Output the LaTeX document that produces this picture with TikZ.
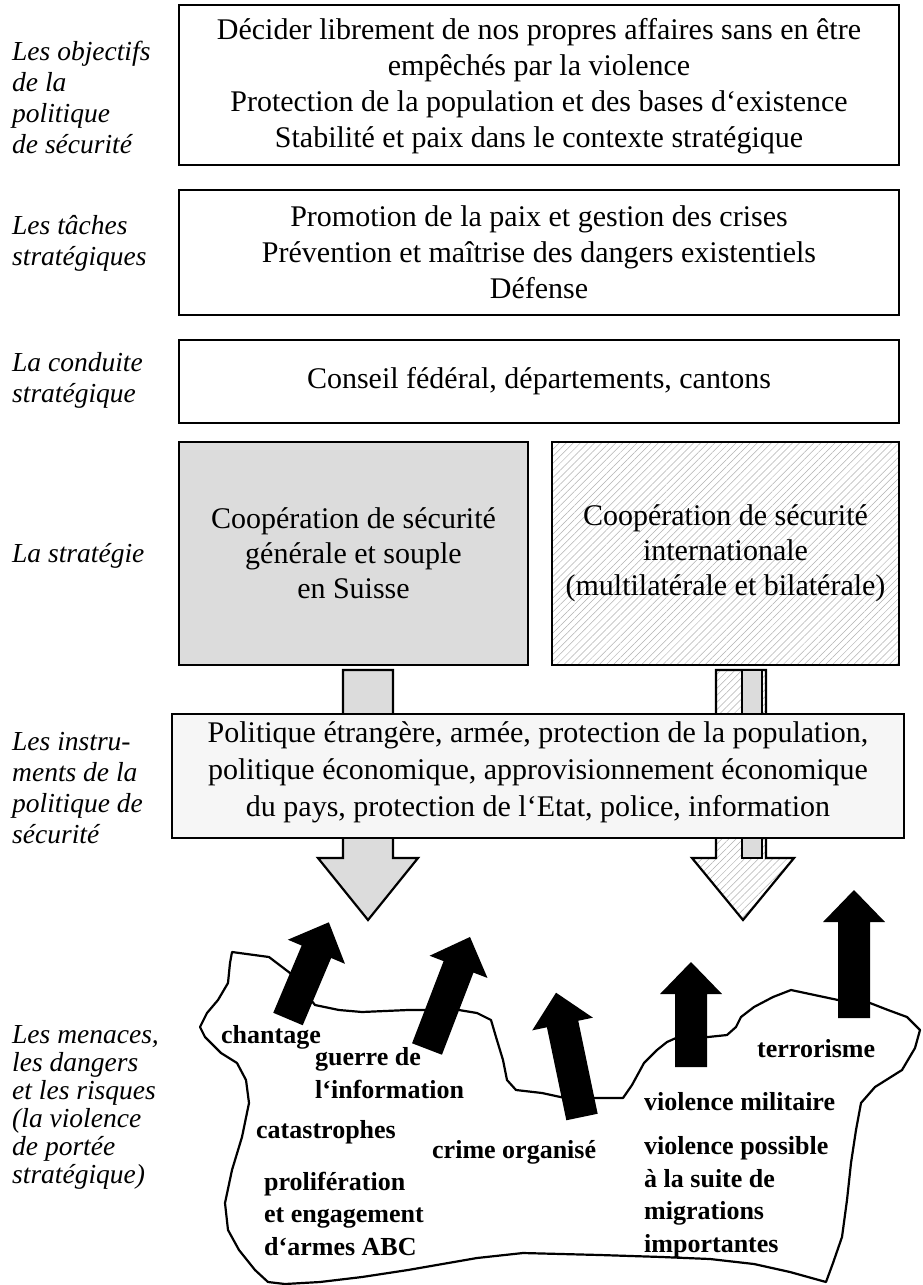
\documentclass[tikz,border=0pt]{standalone}
\usepackage{fontspec}
\setmainfont{Liberation Serif}
\usetikzlibrary{patterns.meta}
\definecolor{boxgray}{HTML}{DCDCDC}
\definecolor{lightfill}{HTML}{F6F6F6}
\newcommand{\fatarrow}[3]{%
  \fill[black,shift={(#1)},rotate=#2] (0,-16) -- ({#3-32},-16) -- ({#3-32},-31) -- (#3,0) -- ({#3-32},31) -- ({#3-32},16) -- (0,16) -- cycle;}
\begin{document}
\begin{tikzpicture}[x=1pt,y=-1pt,
  box/.style={draw, line width=2.4pt, inner sep=0pt},
  lbl/.style={anchor=base west, align=left, inner sep=0pt, font=\itshape\fontsize{27.5}{31}\selectfont},
  btxt/.style={align=center, inner sep=0pt, font=\fontsize{30}{36}\selectfont},
  threat/.style={anchor=base west, align=left, inner sep=0pt, font=\bfseries\fontsize{26}{32.5}\selectfont},
  hatch/.style={pattern={Lines[angle=45,distance=5pt,line width=0.5pt]}, pattern color=black!30},
  outl/.style={draw, line width=2.2pt, line join=round}]
\useasboundingbox (0,0) rectangle (922,1285);
\fill[white] (0,0) rectangle (922,1285);

% left labels (anchor = baseline of last line)
\node[lbl] (l1) at (12,153) {Les objectifs\\de la\\politique\\de sécurité};
\node[lbl] (l2) at (12,265) {Les tâches\\stratégiques};
\node[lbl] (l3) at (12,402) {La conduite\\stratégique};
\node[lbl] (l4) at (12,562) {La stratégie};
\node[lbl] (l5) at (12,843) {Les instru-\\ments de la\\politique de\\sécurité};
\node[lbl, font=\itshape\fontsize{27.5}{28}\selectfont] (l6) at (12,1183) {Les menaces,\\les dangers\\et les risques\\(la violence\\de portée\\stratégique)};

% top boxes
\node[box, minimum width=720pt, minimum height=160pt] (obj) at (539,85) {};
\node[btxt] (objt) at (539,86) {Décider librement de nos propres affaires sans en être\\empêchés par la violence\\Protection de la population et des bases d‘existence\\Stabilité et paix dans le contexte stratégique};
\node[box, minimum width=720pt, minimum height=125pt] (tac) at (539,252.5) {};
\node[btxt] (tact) at (539,252.5) {Promotion de la paix et gestion des crises\\Prévention et maîtrise des dangers existentiels\\Défense};
\node[box, minimum width=720pt, minimum height=83pt] (cond) at (539,381.5) {};
\node[btxt] (condt) at (539,381.5) {Conseil fédéral, départements, cantons};

% strategy boxes
\node[box, fill=boxgray, minimum width=349pt, minimum height=223pt] (coopch) at (353.5,553.5) {};
\node[btxt, font=\fontsize{30}{35}\selectfont] (coopcht) at (353.5,553) {Coopération de sécurité\\générale et souple\\en Suisse};
\node[box, hatch, minimum width=347pt, minimum height=223pt] (coopint) at (725.5,553.5) {};
\node[btxt, font=\fontsize{30}{35}\selectfont] (coopintt) at (725.5,553) {Coopération de sécurité\\internationale\\(multilatérale et bilatérale)};

% big downward arrows (behind instruments box)
\filldraw[fill=boxgray, line width=2.2pt, line join=miter]
  (343,670) -- (393,670) -- (393,858) -- (418,858) -- (368,920) -- (318,858) -- (343,858) -- cycle;
\filldraw[hatch, line width=2.2pt, line join=miter]
  (716,670) -- (766,670) -- (766,858) -- (794,858) -- (743,920) -- (692,858) -- (716,858) -- cycle;
\filldraw[fill=boxgray, line width=2.2pt] (742,670) rectangle (762,858);

% instruments box
\node[box, fill=lightfill, minimum width=732pt, minimum height=124pt] (instr) at (538,776) {};
\node[btxt, font=\fontsize{30}{37}\selectfont] (instrt) at (538,772) {Politique étrangère, armée, protection de la population,\\politique économique, approvisionnement économique\\du pays, protection de l‘Etat, police, information};

% blob outline
\draw[outl] (232,952) -- (269,957) -- (290,973) -- (303,990) -- (315,1005) -- (339,1010) -- (362,1012)
  -- (408,1010) -- (459,1010) -- (477,1013) -- (491,1020) -- (496,1037) -- (503,1060) -- (507,1080)
  -- (516,1090) -- (542,1093) -- (565,1098) -- (597,1098) -- (623,1098) -- (632,1085) -- (644,1063)
  -- (657,1050) -- (667,1042) -- (676,1038) -- (708,1037) -- (727,1035) -- (736,1027) -- (741,1017)
  -- (754,1007) -- (773,997) -- (791,990) -- (838,1000) -- (870,1003) -- (888,1010) -- (907,1017)
  -- (920,1030) -- (915,1048) -- (902,1070) -- (875,1087) -- (861,1103) -- (856,1130) -- (851,1163)
  -- (847,1200) -- (842,1237) -- (833,1263) -- (826,1282)
  -- (790,1272) -- (754,1264) -- (710,1259) -- (662,1257) -- (600,1255) -- (523,1253) -- (477,1258)
  -- (408,1270) -- (362,1277) -- (320,1282) -- (285,1284) -- (268,1282) -- (255,1270) -- (239,1250)
  -- (228,1230) -- (225,1203) -- (232,1170) -- (242,1137) -- (249,1103) -- (246,1080) -- (237,1063)
  -- (221,1053) -- (205,1037) -- (200,1027) -- (207,1013) -- (218,1000) -- (228,983) -- (230,963) -- cycle;

% black threat arrows
\fatarrow{288,1019}{67.1}{105}
\fatarrow{427,1049}{69.0}{120}
\fatarrow{582,1117}{101.8}{127}
\fatarrow{691,1067}{90}{105}
\fatarrow{854,1018}{90}{128}

% threat labels (anchor = baseline of last line)
\node[threat] (t1) at (221,1043) {chantage};
\node[threat] (t2) at (315,1098) {guerre de\\l‘information};
\node[threat] (t3) at (256,1138) {catastrophes};
\node[threat] (t4) at (432,1158) {crime organisé};
\node[threat] (t5) at (264,1255) {prolifération\\et engagement\\d‘armes ABC};
\node[threat] (t6) at (757,1057) {terrorisme};
\node[threat] (t7) at (644,1110) {violence militaire};
\node[threat] (t8) at (644,1252) {violence possible\\à la suite de\\migrations\\importantes};
\end{tikzpicture}
\end{document}
